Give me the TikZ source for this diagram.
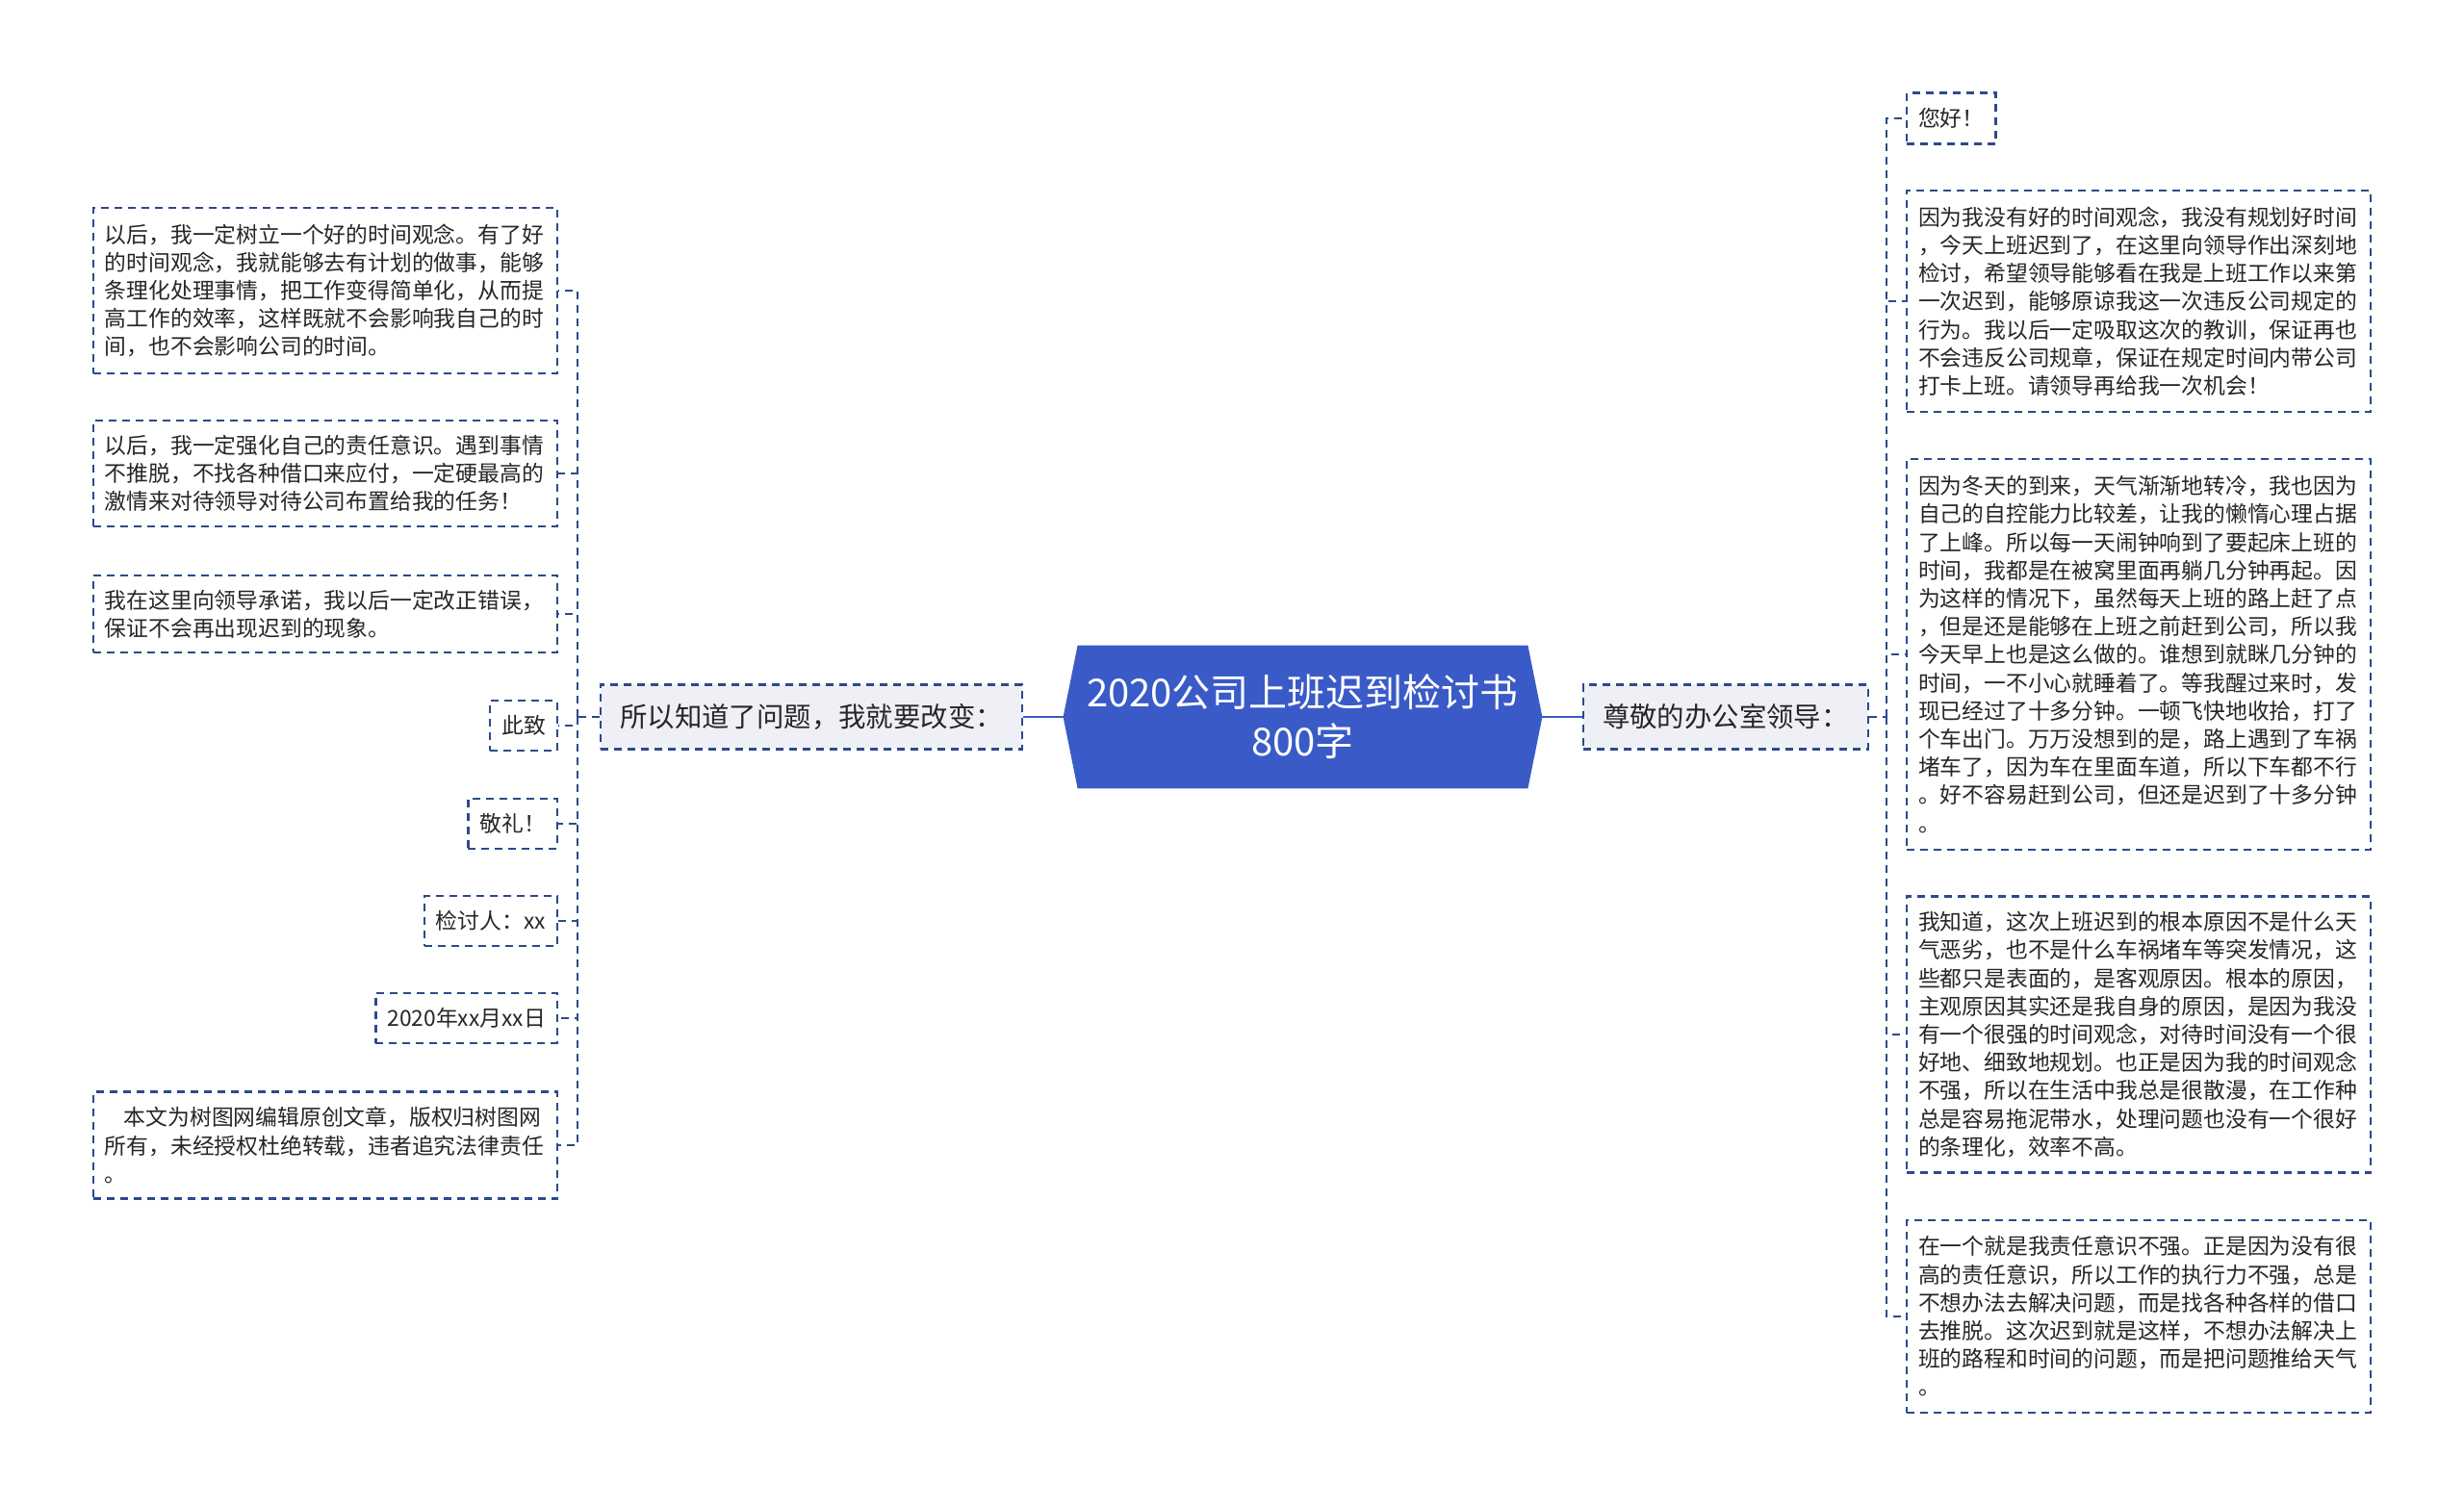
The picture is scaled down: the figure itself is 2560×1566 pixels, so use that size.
\documentclass[tikz,border=0pt]{standalone}
\usepackage{fontspec}
\setmainfont{Noto Sans CJK SC}
\usepackage{xcolor}
\usepackage{tikz}
\usetikzlibrary{backgrounds}

\definecolor{rootblue}{HTML}{3A5BC7}
\definecolor{dashblue}{HTML}{2C4A8A}
\definecolor{branchgray}{HTML}{EEF0F5}
\definecolor{inkgray}{HTML}{262626}

\tikzset{
    link/.style={draw=dashblue, line width=1.15pt, dash pattern=on 4pt off 3pt},
    rootlink/.style={draw=rootblue, line width=1.3pt},
    leafbox/.style={draw=dashblue, line width=1.15pt, dash pattern=on 4pt off 3pt,
        fill=white, text=inkgray, inner xsep=6pt, inner ysep=0pt, align=left,
        font=\fontsize{11.4}{14.6}\selectfont},
    bigleaf/.style={leafbox, text width=229pt},
    branchbox/.style={leafbox, fill=branchgray, inner xsep=10pt, minimum height=33.5pt,
        font=\fontsize{14.2}{17}\selectfont},
}

\begin{document}
\begin{tikzpicture}[x=0.5pt, y=-0.5pt]
    \useasboundingbox (0,0) rectangle (2560,1566);

    % Central topic
    \node[text=white, align=center, minimum width=233.5pt, minimum height=74pt,
        font=\fontsize{20}{25.5}\selectfont] (root) at (1353.5,745)
        {2020公司上班迟到检讨书\\800字};
    \begin{scope}[on background layer]
        \fill[rootblue] (root.north west) -- (root.north east) -- ([xshift=7.5pt]root.east)
            -- (root.south east) -- (root.south west) -- ([xshift=-7.5pt]root.west) -- cycle;
    \end{scope}

    % Main branches
    \node[branchbox, anchor=east] (lb) at (1063,745) {所以知道了问题，我就要改变：};
    \node[branchbox, anchor=west] (rb) at (1644,745) {尊敬的办公室领导：};
    \draw[rootlink] (root.west) -- (lb.east);
    \draw[rootlink] (root.east) -- (rb.west);

    % Left leaves
    \node[bigleaf, anchor=east, minimum height=86pt] (l1) at (580,302)
        {以后，我一定树立一个好的时间观念。有了好\\的时间观念，我就能够去有计划的做事，能够\\条理化处理事情，把工作变得简单化，从而提\\高工作的效率，这样既就不会影响我自己的时\\间，也不会影响公司的时间。};
    \node[bigleaf, anchor=east, minimum height=55pt] (l2) at (580,492)
        {以后，我一定强化自己的责任意识。遇到事情\\不推脱，不找各种借口来应付，一定硬最高的\\激情来对待领导对待公司布置给我的任务！};
    \node[bigleaf, anchor=east, minimum height=40pt] (l3) at (580,638)
        {我在这里向领导承诺，我以后一定改正错误，\\保证不会再出现迟到的现象。};
    \foreach \i/\y/\txt in {4/754/此致, 5/856/敬礼！, 6/957/检讨人：xx, 7/1058/2020年xx月xx日} {
        \node[leafbox, anchor=east, minimum height=26pt] (l\i) at (580,\y) {\txt};
    }
    \node[bigleaf, anchor=east, minimum height=55.5pt] (l8) at (580,1190)
        {\hspace*{10pt}本文为树图网编辑原创文章，版权归树图网\\所有，未经授权杜绝转载，违者追究法律责任\\。};

    % Right leaves
    \node[leafbox, anchor=west, minimum height=26.5pt] (r1) at (1980,123) {您好！};
    \node[bigleaf, anchor=west, minimum height=115pt] (r2) at (1980,313)
        {因为我没有好的时间观念，我没有规划好时间\\，今天上班迟到了，在这里向领导作出深刻地\\检讨，希望领导能够看在我是上班工作以来第\\一次迟到，能够原谅我这一次违反公司规定的\\行为。我以后一定吸取这次的教训，保证再也\\不会违反公司规章，保证在规定时间内带公司\\打卡上班。请领导再给我一次机会！};
    \node[bigleaf, anchor=west, minimum height=203pt] (r3) at (1980,680)
        {因为冬天的到来，天气渐渐地转冷，我也因为\\自己的自控能力比较差，让我的懒惰心理占据\\了上峰。所以每一天闹钟响到了要起床上班的\\时间，我都是在被窝里面再躺几分钟再起。因\\为这样的情况下，虽然每天上班的路上赶了点\\，但是还是能够在上班之前赶到公司，所以我\\今天早上也是这么做的。谁想到就眯几分钟的\\时间，一不小心就睡着了。等我醒过来时，发\\现已经过了十多分钟。一顿飞快地收拾，打了\\个车出门。万万没想到的是，路上遇到了车祸\\堵车了，因为车在里面车道，所以下车都不行\\。好不容易赶到公司，但还是迟到了十多分钟\\。};
    \node[bigleaf, anchor=west, minimum height=143.5pt] (r4) at (1980,1075)
        {我知道，这次上班迟到的根本原因不是什么天\\气恶劣，也不是什么车祸堵车等突发情况，这\\些都只是表面的，是客观原因。根本的原因，\\主观原因其实还是我自身的原因，是因为我没\\有一个很强的时间观念，对待时间没有一个很\\好地、细致地规划。也正是因为我的时间观念\\不强，所以在生活中我总是很散漫，在工作种\\总是容易拖泥带水，处理问题也没有一个很好\\的条理化，效率不高。};
    \node[bigleaf, anchor=west, minimum height=100pt] (r5) at (1980,1368)
        {在一个就是我责任意识不强。正是因为没有很\\高的责任意识，所以工作的执行力不强，总是\\不想办法去解决问题，而是找各种各样的借口\\去推脱。这次迟到就是这样，不想办法解决上\\班的路程和时间的问题，而是把问题推给天气\\。};

    % Dashed connectors to the leaves
    \coordinate (ls) at (600,745);
    \coordinate (rs) at (1960,745);
    \draw[link] (lb.west) -- (ls);
    \draw[link] (rb.east) -- (rs);
    \foreach \i in {1,...,8} {
        \draw[link] (ls) |- (l\i.east);
    }
    \foreach \i in {1,...,5} {
        \draw[link] (rs) |- (r\i.west);
    }
\end{tikzpicture}
\end{document}
